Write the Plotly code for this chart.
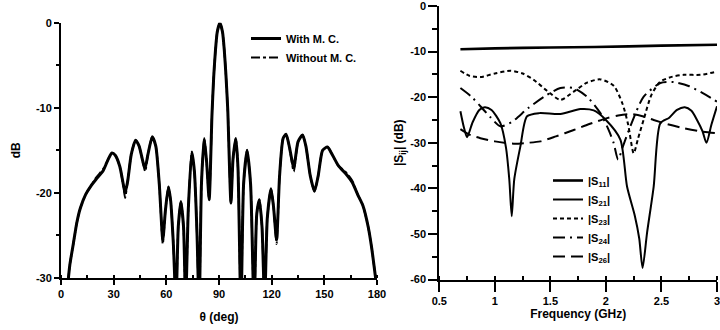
import plotly.graph_objects as go

# ---------------- Left chart: radiation pattern ----------------
theta = [4, 5, 7, 9, 11, 14, 17, 20, 24, 27, 29, 31, 33.5, 35.5, 36.5, 38, 40, 42.5, 44.5, 47, 48,
         49.5, 52, 54, 56, 58, 59.5, 61.2, 62.5, 64, 65.5, 66.8, 68.3, 69.8, 71, 72.5, 74.5, 76,
         77.5, 78.7, 80, 81.6, 83, 84.4, 86, 87, 88, 89, 90.5, 92, 93, 94, 95, 96.8, 98, 99.6,
         100.8, 102.5, 104, 106, 108, 110, 111.5, 113, 114.5, 116, 117.5, 119.6, 121, 122.8,
         124.5, 126.5, 128.2, 130, 132.6, 135, 137.6, 139.5, 142, 144.4, 146.5, 149, 151.8, 154,
         158, 162, 166, 169, 172, 175, 177, 179.5]
with_mc = [-30.5, -28.5, -26, -23.5, -21.8, -20.2, -19.2, -18.4, -17.4, -16, -15.3, -15.6, -16.9,
           -19, -20, -18.6, -15.5, -13.8, -14.5, -16.6, -17, -15.5, -13.4, -14.5, -19, -25.5, -22,
           -19.3, -21, -26, -33, -24, -21, -24, -33, -22, -15.2, -17.5, -25, -34, -19, -13.6,
           -16.5, -20.8, -10.8, -6.3, -3.2, -1.1, 0, -1.1, -3.2, -6.3, -10.3, -21.2, -16, -13.6,
           -17, -34, -19, -15, -19, -34, -22.5, -20.8, -24, -33, -23, -19.5, -21.5, -25.5, -18,
           -13.6, -13.1, -14.5, -17, -14, -13.2, -14.5, -18, -19.8, -18, -15, -14.6, -15.3, -16.8,
           -17.7, -18.8, -20.2, -21.5, -24, -26.5, -30.5]
without_mc = [-30.5, -28.5, -26, -23.5, -21.8, -20.2, -19.2, -18.2, -17.2, -16, -15.3, -15.6, -16.9,
              -19.2, -20.6, -18.6, -15.5, -13.8, -14.5, -16.8, -17.5, -15.5, -13.4, -14.5, -19, -26, -22,
              -19.3, -21, -26, -33, -24, -21, -24, -33, -22, -15.2, -17.5, -25, -34, -19, -13.6,
              -16.5, -20.8, -10.8, -6.3, -3.2, -1.1, 0, -1.1, -3.2, -6.3, -10.3, -21.2, -16, -13.6,
              -17, -34, -19, -15, -19, -34, -22.5, -20.8, -24, -33, -23, -19.5, -21.5, -26, -18,
              -13.6, -13.1, -14.5, -17.5, -14, -13.2, -14.5, -18, -19.8, -18, -15, -14.6, -15.3, -16.8,
              -17.5, -18.6, -20.2, -21.5, -24, -26.5, -30.5]

# ---------------- Right chart: S-parameters ----------------
f_s11 = [0.69, 1.0, 1.5, 1.9, 2.5, 3.0]
s11 = [-9.5, -9.3, -9.1, -9.0, -8.7, -8.5]

f_s21 = [0.69, 0.72, 0.75, 0.8, 0.86, 0.91, 0.97, 1.05, 1.1, 1.13, 1.152, 1.175, 1.23, 1.29,
         1.4, 1.59, 1.77, 1.89, 2.0, 2.13, 2.19, 2.26, 2.3, 2.33, 2.37, 2.43, 2.49, 2.57, 2.64,
         2.71, 2.77, 2.82, 2.87, 2.905, 2.95, 3.0]
s21 = [-23.1, -26.5, -28.8, -25.5, -22.8, -22.2, -22.8, -25.7, -31, -38, -46.1, -38, -30.8, -24.2,
       -23.5, -23.7, -22.6, -22.9, -25.0, -29.3, -39.6, -46, -51, -57.5, -49.8, -39.6, -25.7, -24.5,
       -22.8, -22.2, -23.0, -25.0, -27.5, -30.0, -26.0, -22.0]

f_s23 = [0.69, 0.77, 0.87, 1.0, 1.14, 1.25, 1.35, 1.47, 1.59, 1.71, 1.83, 1.95, 2.07, 2.15, 2.2,
         2.25, 2.29, 2.34, 2.41, 2.49, 2.6, 2.7, 2.85, 3.0]
s23 = [-14.2, -15.3, -15.6, -14.8, -14.2, -14.8, -16.2, -18.6, -20.6, -18.8, -16.8, -16.1, -17.5,
       -21.5, -26, -32.3, -29, -24.9, -19.5, -16.6, -15.5, -15.1, -15.1, -14.4]

f_s24 = [0.69, 0.79, 0.87, 0.96, 1.05, 1.15, 1.3, 1.45, 1.59, 1.71, 1.83, 1.95, 2.03, 2.07, 2.11,
         2.15, 2.22, 2.34, 2.49, 2.61, 2.75, 2.9, 3.0]
s24 = [-18.0, -19.9, -22.0, -24.4, -26.4, -25.5, -22.4, -19.8, -18.0, -18.0, -19.9, -23.5, -27.5,
       -30.1, -33.7, -31, -26.4, -19.9, -16.9, -16.7, -17.6, -19.5, -21.0]

f_s26 = [0.69, 0.77, 0.87, 1.0, 1.17, 1.3, 1.41, 1.55, 1.71, 1.85, 2.01, 2.11, 2.22, 2.33, 2.43,
         2.55, 2.7, 2.85, 3.0]
s26 = [-27.0, -28.2, -29.0, -29.7, -30.2, -30.0, -29.7, -28.6, -27.2, -25.9, -24.6, -24.0, -23.7,
       -24.2, -25.0, -25.9, -26.8, -27.5, -27.9]

left_xticks = [0, 30, 60, 90, 120, 150, 180]
left_yticks = [0, -10, -20, -30]
right_xticks = [0.5, 1, 1.5, 2, 2.5, 3]
right_xlabels = ["0.5", "1", "1.5", "2", "2.5", "3"]
right_yticks = [0, -10, -20, -30, -40, -50, -60]

FONT = "Liberation Sans, Arial, sans-serif"
BLACK = "#000000"


def neg_labels(vals):
    return [str(v) if v == 0 else "-" + str(-v) for v in vals]


fig = go.Figure()

fig.add_trace(go.Scatter(x=theta, y=with_mc, mode="lines", name="With M. C.",
                         line=dict(color=BLACK, width=3, shape="spline", smoothing=0.6),
                         xaxis="x", yaxis="y", legend="legend"))
fig.add_trace(go.Scatter(x=theta, y=without_mc, mode="lines", name="Without M. C.",
                         line=dict(color=BLACK, width=2, dash="dashdot", shape="spline", smoothing=0.6),
                         xaxis="x", yaxis="y", legend="legend"))

rs = dict(shape="spline", smoothing=0.7)
fig.add_trace(go.Scatter(x=f_s11, y=s11, mode="lines", name="|S<sub>11</sub>|",
                         line=dict(color=BLACK, width=2.6, **rs), xaxis="x2", yaxis="y2", legend="legend2"))
fig.add_trace(go.Scatter(x=f_s21, y=s21, mode="lines", name="|S<sub>21</sub>|",
                         line=dict(color=BLACK, width=2, **rs), xaxis="x2", yaxis="y2", legend="legend2"))
fig.add_trace(go.Scatter(x=f_s23, y=s23, mode="lines", name="|S<sub>23</sub>|",
                         line=dict(color=BLACK, width=2, dash="4px,3px", **rs), xaxis="x2", yaxis="y2", legend="legend2"))
fig.add_trace(go.Scatter(x=f_s24, y=s24, mode="lines", name="|S<sub>24</sub>|",
                         line=dict(color=BLACK, width=2, dash="12px,5px,2px,5px", **rs), xaxis="x2", yaxis="y2", legend="legend2"))
fig.add_trace(go.Scatter(x=f_s26, y=s26, mode="lines", name="|S<sub>26</sub>|",
                         line=dict(color=BLACK, width=2, dash="12px,6px", **rs), xaxis="x2", yaxis="y2", legend="legend2"))

tickfont = dict(family=FONT, size=11, color=BLACK, weight="bold")
titlefont = dict(family=FONT, size=12, color=BLACK, weight="bold")
axis_common = dict(showline=True, linecolor=BLACK, linewidth=2, showgrid=False, zeroline=False,
                   ticks="outside", tickwidth=2, tickcolor=BLACK, tickfont=tickfont,
                   automargin=False, ticklabeloverflow="allow")

W, H = 720, 330
fig.update_layout(
    template="none",
    width=W, height=H,
    margin=dict(l=0, r=0, t=0, b=0, pad=0),
    paper_bgcolor="white", plot_bgcolor="white",
    font=dict(family=FONT, color=BLACK),
    xaxis=dict(domain=[61 / W, 377 / W], range=[0, 180], tickvals=left_xticks, ticklen=5,
               minor=dict(dtick=15, ticks="inside", ticklen=3, tickwidth=1.5, tickcolor=BLACK),
               title=dict(text="θ (deg)", font=titlefont, standoff=13), anchor="y", **axis_common),
    yaxis=dict(domain=[1 - 278 / H, 1 - 22.7 / H], range=[-30, 0], tickvals=left_yticks,
               ticktext=neg_labels(left_yticks), ticklen=5,
               minor=dict(dtick=5, ticks="outside", ticklen=3, tickwidth=1.5, tickcolor=BLACK),
               title=dict(text="dB", font=titlefont, standoff=13), anchor="x", **axis_common),
    xaxis2=dict(domain=[439.3 / W, 717 / W], range=[0.5, 3], tickvals=right_xticks,
                ticktext=right_xlabels, ticklen=10,
                minor=dict(dtick=0.25, ticks="inside", ticklen=4, tickwidth=1.5, tickcolor=BLACK),
                title=dict(text="Frequency (GHz)", font=titlefont, standoff=1), anchor="y2", **axis_common),
    yaxis2=dict(domain=[1 - 279.5 / H, 1 - 6 / H], range=[-60, 0], tickvals=right_yticks,
                ticktext=neg_labels(right_yticks), ticklen=9,
                minor=dict(dtick=5, ticks="outside", ticklen=5, tickwidth=1.5, tickcolor=BLACK),
                title=dict(text="|S<sub>ij</sub>| (dB)", font=titlefont, standoff=4), anchor="x2", **axis_common),
    legend=dict(x=246 / W, y=1 - 24 / H, xanchor="left", yanchor="top", bgcolor="rgba(0,0,0,0)",
                font=dict(family=FONT, size=11, color=BLACK, weight="bold"), tracegroupgap=0),
    legend2=dict(x=548 / W, y=1 - 166 / H, xanchor="left", yanchor="top", bgcolor="rgba(0,0,0,0)",
                 font=dict(family=FONT, size=11, color=BLACK, weight="bold"), tracegroupgap=0),
    showlegend=True,
)

fig.write_html("out.html", config={"displayModeBar": False},
               post_script="document.body.style.margin='0px';")
